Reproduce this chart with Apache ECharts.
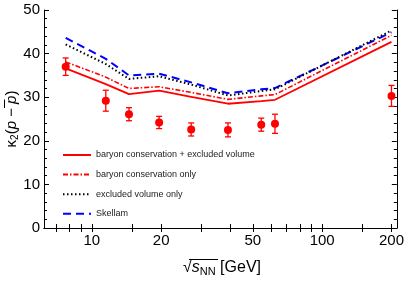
<!DOCTYPE html>
<html><head><meta charset="utf-8">
<script src="https://cdn.jsdelivr.net/npm/echarts@6/dist/echarts.min.js"></script>
<style>html,body{margin:0;padding:0;background:#fff}#c{width:407px;height:281px}</style>
</head><body><div id="c"></div>
<script>
// Beam energies sqrt(s_NN) [GeV]
const energies = [7.7, 11.5, 14.5, 19.6, 27, 39, 54.4, 62.4, 200];
// Measured kappa2(p - pbar) and errors
const measured = [37.0, 29.2, 26.1, 24.2, 22.6, 22.5, 23.7, 23.9, 30.3];
const measuredErr = [2.0, 2.4, 1.5, 1.4, 1.5, 1.6, 1.5, 2.2, 2.4];
// Model curves
const bcEv = [36.6, 33.0, 30.7, 31.5, 30.1, 28.5, 29.1, 29.4, 42.7];
const bcOnly = [38.1, 34.6, 32.0, 32.4, 31.1, 29.5, 30.3, 30.6, 44.2];
const evOnly = [42.1, 37.6, 34.2, 34.8, 32.9, 30.4, 31.4, 31.8, 45.3];
const skellam = [43.6, 38.8, 35.0, 35.4, 33.4, 30.9, 31.8, 32.1, 44.9];
// Tick labels / positions
const xMajorTicks = [10, 20, 50, 100, 200];
const xAllTicks = [7, 8, 9, 10, 15, 20, 30, 40, 50, 60, 70, 80, 90, 100, 150, 200];
const seriesNames = ['baryon conservation + excluded volume', 'baryon conservation only', 'excluded volume only', 'Skellam'];

const font = '"Liberation Sans", Arial, sans-serif';
const pair = (ys) => energies.map((e, i) => [e, ys[i]]);

const chart = echarts.init(document.getElementById('c'), null, {renderer: 'canvas'});
const xBase = {type: 'log', logBase: 10, min: 6.2, max: 211, splitLine: {show: false}, gridIndex: 0};
const axisLine = {show: true, lineStyle: {color: '#000', width: 1}};
chart.setOption({
  animation: false,
  backgroundColor: '#fff',
  grid: {left: 44, right: 9, top: 10, bottom: 53},
  xAxis: [
    Object.assign({}, xBase, {position: 'bottom', axisLine,
      axisTick: {show: true, inside: true, length: 4, customValues: xAllTicks, lineStyle: {color: '#000'}},
      axisLabel: {show: true, customValues: xMajorTicks, fontSize: 15, color: '#000', fontFamily: font, margin: 5}}),
    Object.assign({}, xBase, {position: 'top', axisLine,
      axisTick: {show: true, inside: true, length: 4, customValues: xAllTicks, lineStyle: {color: '#000'}},
      axisLabel: {show: true, customValues: xMajorTicks, formatter: () => '', fontSize: 1}})
  ],
  yAxis: [
    {type: 'value', min: 0, max: 50, interval: 10, position: 'left', axisLine, splitLine: {show: false},
      axisTick: {show: true, inside: true, length: 5, lineStyle: {color: '#000'}},
      minorTick: {show: true, splitNumber: 5, length: 3, lineStyle: {color: '#000'}},
      axisLabel: {fontSize: 15, color: '#000', fontFamily: font, margin: 4}},
    {type: 'value', min: 0, max: 50, interval: 10, position: 'right', axisLine, splitLine: {show: false},
      axisTick: {show: true, inside: true, length: 5, lineStyle: {color: '#000'}},
      minorTick: {show: true, splitNumber: 5, length: 3, lineStyle: {color: '#000'}},
      axisLabel: {show: false}}
  ],
  legend: {
    orient: 'vertical', left: 57, top: 145, itemWidth: 28, itemHeight: 10, itemGap: 9.6,
    data: seriesNames,
    itemStyle: {opacity: 0},
    textStyle: {fontSize: 9, color: '#222', fontFamily: font, lineHeight: 10}
  },
  series: [
    {name: seriesNames[3], type: 'line', data: pair(skellam), symbol: 'none', xAxisIndex: 0,
      lineStyle: {color: '#0000ff', width: 2, type: [8, 5]}, itemStyle: {color: '#0000ff'}},
    {name: seriesNames[2], type: 'line', data: pair(evOnly), symbol: 'none', xAxisIndex: 0,
      lineStyle: {color: '#000', width: 2, type: [1.5, 2.5]}, itemStyle: {color: '#000'}},
    {name: seriesNames[1], type: 'line', data: pair(bcOnly), symbol: 'none', xAxisIndex: 0,
      lineStyle: {color: '#ff0000', width: 1.6, type: [5, 2, 1.5, 2]}, itemStyle: {color: '#ff0000'}},
    {name: seriesNames[0], type: 'line', data: pair(bcEv), symbol: 'none', xAxisIndex: 0,
      lineStyle: {color: '#ff0000', width: 1.8}, itemStyle: {color: '#ff0000'}},
    {name: 'err', type: 'custom', xAxisIndex: 0,
      data: energies.map((e, i) => [e, measured[i] - measuredErr[i], measured[i] + measuredErr[i]]),
      renderItem: (params, api) => {
        const lo = api.coord([api.value(0), api.value(1)]);
        const hi = api.coord([api.value(0), api.value(2)]);
        const w = 3;
        const st = {stroke: '#ff0000', lineWidth: 1.3};
        return {type: 'group', children: [
          {type: 'line', shape: {x1: lo[0], y1: lo[1], x2: hi[0], y2: hi[1]}, style: st},
          {type: 'line', shape: {x1: lo[0] - w, y1: lo[1], x2: lo[0] + w, y2: lo[1]}, style: st},
          {type: 'line', shape: {x1: hi[0] - w, y1: hi[1], x2: hi[0] + w, y2: hi[1]}, style: st}
        ]};
      }, z: 5},
    {name: 'data', type: 'scatter', xAxisIndex: 0, data: pair(measured), symbol: 'circle', symbolSize: 8,
      itemStyle: {color: '#ff0000', opacity: 1}, z: 6}
  ],
  graphic: [
    {type: 'text', x: 12, y: 119, rotation: Math.PI / 2,
      style: {
        text: '{a|κ}{s|2}{a|(}{i|p}{a| − }{i|p}{a|)}',
        align: 'center', verticalAlign: 'middle',
        rich: {
          a: {fontSize: 15, fontFamily: font, fill: '#000'},
          i: {fontSize: 15, fontFamily: font, fontStyle: 'italic', fill: '#000'},
          s: {fontSize: 10, fontFamily: font, fill: '#000', padding: [6, 0, 0, 0]}
        }
      }},
    {type: 'line', shape: {x1: 4.5, y1: 99.5, x2: 4.5, y2: 108}, style: {stroke: '#000', lineWidth: 1}},
    {type: 'text', x: 222, y: 268,
      style: {
        text: '{a|√}{i|s}{s|NN}{a|\u00a0[GeV]}',
        align: 'center', verticalAlign: 'middle',
        rich: {
          a: {fontSize: 16, fontFamily: font, fill: '#000'},
          i: {fontSize: 16, fontFamily: font, fontStyle: 'italic', fill: '#000'},
          s: {fontSize: 11, fontFamily: font, fill: '#000', padding: [7, 0, 0, 0]}
        }
      }},
    {type: 'line', shape: {x1: 189, y1: 259.5, x2: 218, y2: 259.5}, style: {stroke: '#000', lineWidth: 1}}
  ]
});
</script></body></html>
